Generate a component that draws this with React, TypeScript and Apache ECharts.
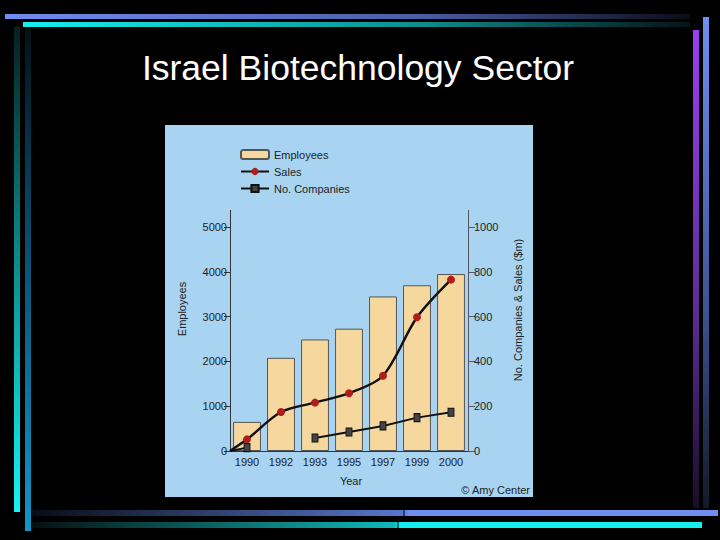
import React, { useEffect, useRef } from "react";
import * as echarts from "echarts";

const years = ["1990", "1992", "1993", "1995", "1997", "1999", "2000"];
const employees = [650, 2080, 2490, 2730, 3450, 3700, 3950];
const sales = [52, 174, 216, 258, 336, 597, 765];
const companies: (number | null)[] = [15, null, 58, 85, 112, 149, 173];
const salesStart = 0;
const companiesStart = 0;
const leftTicks = { min: 0, max: 5000, interval: 1000 };
const rightTicks = { min: 0, max: 1000, interval: 200 };

const FONT = '"Liberation Sans", Arial, Helvetica, sans-serif';

function lin(x2: number, y2: number, stops: [number, string][]) {
  return {
    type: "linear",
    x: 0,
    y: 0,
    x2,
    y2,
    colorStops: stops.map(([offset, color]) => ({ offset, color })),
  };
}

export default function App() {
  const ref = useRef<HTMLDivElement>(null);
  useEffect(() => {
    if (!ref.current) return;
    const chart = echarts.init(ref.current, undefined, { renderer: "svg" });

    const salesData: any[] = [
      { value: [-0.5, salesStart], symbol: "none" },
      ...sales.map((v, i) => [i, v]),
    ];
    const compData: any[] = [
      { value: [-0.5, companiesStart], symbol: "none" },
      ...companies.map((v, i) => [i, v == null ? "-" : v]),
    ];

    const axisColor = "#333";
    const labelStyle = {
      fontSize: 11,
      color: "#222",
      fontFamily: FONT,
    };

    chart.setOption({
      animation: false,
      backgroundColor: "#000",
      textStyle: { fontFamily: FONT },
      grid: { left: 230, right: 252, top: 227, bottom: 89, containLabel: false },
      legend: {
        orient: "vertical",
        left: 240,
        top: 149,
        padding: 0,
        itemWidth: 28,
        itemHeight: 9,
        itemGap: 6,
        textStyle: { fontSize: 11, color: "#222", fontFamily: FONT },
        data: ["Employees", "Sales", "No. Companies"],
      },
      xAxis: [
        {
          type: "category",
          data: years,
          axisLine: { onZero: false, lineStyle: { color: axisColor, width: 1 } },
          axisTick: {
            interval: 0,
            alignWithLabel: false,
            length: 16,
            lineStyle: { color: axisColor },
          },
          axisLabel: { ...labelStyle, margin: 5, interval: 0 },
          splitLine: { show: false },
        },
        {
          type: "value",
          min: -0.5,
          max: 6.5,
          show: false,
        },
      ],
      yAxis: [
        {
          type: "value",
          position: "left",
          ...leftTicks,
          axisLine: { show: true, onZero: false, lineStyle: { color: axisColor } },
          axisTick: { show: true, length: 6, lineStyle: { color: axisColor } },
          axisLabel: { ...labelStyle, margin: 3, formatter: (v: number) => String(v) },
          splitLine: { show: false },
        },
        {
          type: "value",
          position: "right",
          ...rightTicks,
          axisLine: { show: true, onZero: false, lineStyle: { color: "#556" } },
          axisTick: { show: true, length: 7, lineStyle: { color: "#556" } },
          axisLabel: { ...labelStyle, margin: 6, formatter: (v: number) => String(v) },
          splitLine: { show: false },
        },
      ],
      series: [
        {
          name: "Employees",
          type: "bar",
          xAxisIndex: 0,
          yAxisIndex: 0,
          data: employees,
          barCategoryGap: "18%",
          itemStyle: { color: "#f6d89e", borderColor: "#555", borderWidth: 1 },
          z: 2,
        },
        {
          name: "Sales",
          type: "line",
          xAxisIndex: 1,
          yAxisIndex: 1,
          data: salesData,
          smooth: 0.3,
          symbol: "circle",
          symbolSize: 8,
          itemStyle: { color: "#b01c1c" },
          lineStyle: { color: "#111", width: 2.5 },
          z: 4,
        },
        {
          name: "No. Companies",
          type: "line",
          xAxisIndex: 1,
          yAxisIndex: 1,
          data: compData,
          connectNulls: false,
          symbol: "rect",
          symbolSize: [6, 8],
          itemStyle: { color: "#444", borderColor: "#111", borderWidth: 1 },
          lineStyle: { color: "#111", width: 2 },
          z: 3,
        },
      ],
      graphic: [
        {
          type: "rect",
          z: -10,
          shape: { x: 165, y: 125, width: 368, height: 372 },
          style: { fill: "#a8d4f1" },
        },
        {
          type: "line",
          z: 5,
          shape: { x1: 230.5, y1: 210, x2: 230.5, y2: 227 },
          style: { stroke: axisColor, lineWidth: 1 },
        },
        {
          type: "line",
          z: 5,
          shape: { x1: 468.5, y1: 210, x2: 468.5, y2: 227 },
          style: { stroke: "#556", lineWidth: 1 },
        },
        {
          type: "text",
          x: 182,
          y: 309,
          rotation: Math.PI / 2,
          style: {
            text: "Employees",
            fontSize: 11,
            fill: "#222",
            fontFamily: FONT,
            align: "center",
            verticalAlign: "middle",
          },
        },
        {
          type: "text",
          x: 518,
          y: 310,
          rotation: Math.PI / 2,
          style: {
            text: "No. Companies & Sales ($m)",
            fontSize: 11,
            fill: "#222",
            fontFamily: FONT,
            align: "center",
            verticalAlign: "middle",
          },
        },
        {
          type: "text",
          x: 351,
          y: 481,
          style: {
            text: "Year",
            fontSize: 11,
            fill: "#222",
            fontFamily: FONT,
            align: "center",
            verticalAlign: "middle",
          },
        },
        {
          type: "text",
          x: 530,
          y: 490,
          style: {
            text: "© Amy Center",
            fontSize: 11,
            fill: "#222",
            fontFamily: FONT,
            align: "right",
            verticalAlign: "middle",
          },
        },
        {
          type: "text",
          x: 358,
          y: 68,
          style: {
            text: "Israel Biotechnology Sector",
            fontSize: 35.5,
            fill: "#fff",
            fontFamily: FONT,
            align: "center",
            verticalAlign: "middle",
          },
        },
        {
          type: "rect",
          shape: { x: 5, y: 14, width: 685, height: 5 },
          style: { fill: lin(1, 0, [[0, "#6f8cf0"], [0.6, "#4a5fa8"], [1, "#0c0c18"]]) },
        },
        {
          type: "rect",
          shape: { x: 23, y: 22, width: 667, height: 5 },
          style: { fill: lin(1, 0, [[0, "#14f0f0"], [0.6, "#0e8c8c"], [1, "#061414"]]) },
        },
        {
          type: "rect",
          shape: { x: 703, y: 17, width: 6, height: 491 },
          style: { fill: lin(0, 1, [[0, "#6f8ff2"], [0.6, "#3d5390"], [1, "#141826"]]) },
        },
        {
          type: "rect",
          shape: { x: 693, y: 30, width: 6, height: 478 },
          style: { fill: lin(0, 1, [[0, "#9a3ff2"], [0.6, "#5d2a94"], [1, "#1a0c28"]]) },
        },
        {
          type: "rect",
          shape: { x: 14, y: 27, width: 6, height: 485 },
          style: { fill: lin(0, 1, [[0, "#062020"], [0.4, "#0a7a7a"], [1, "#14f4f4"]]) },
        },
        {
          type: "rect",
          shape: { x: 25, y: 29, width: 6, height: 502 },
          style: { fill: lin(0, 1, [[0, "#061018"], [0.4, "#0a4a68"], [1, "#1296c8"]]) },
        },
        {
          type: "rect",
          shape: { x: 32, y: 510, width: 686, height: 6 },
          style: { fill: lin(1, 0, [[0, "#080c14"], [0.54, "#5877cc"], [0.55, "#6f8ff0"], [1, "#6f8ff0"]]) },
        },
        {
          type: "rect",
          shape: { x: 32, y: 522, width: 670, height: 6 },
          style: { fill: lin(1, 0, [[0, "#061010"], [0.54, "#10b8b8"], [0.55, "#14eeee"], [1, "#14f0f0"]]) },
        },
        {
          type: "line",
          shape: { x1: 404, y1: 510, x2: 404, y2: 516 },
          style: { stroke: "#000", lineWidth: 1 },
        },
        {
          type: "line",
          shape: { x1: 398, y1: 522, x2: 398, y2: 528 },
          style: { stroke: "#000", lineWidth: 1 },
        },
      ],
    });
    return () => chart.dispose();
  }, []);

  return (
    <div
      ref={ref}
      style={{
        position: "fixed",
        left: 0,
        top: 0,
        width: 720,
        height: 540,
        background: "#000",
      }}
    />
  );
}
